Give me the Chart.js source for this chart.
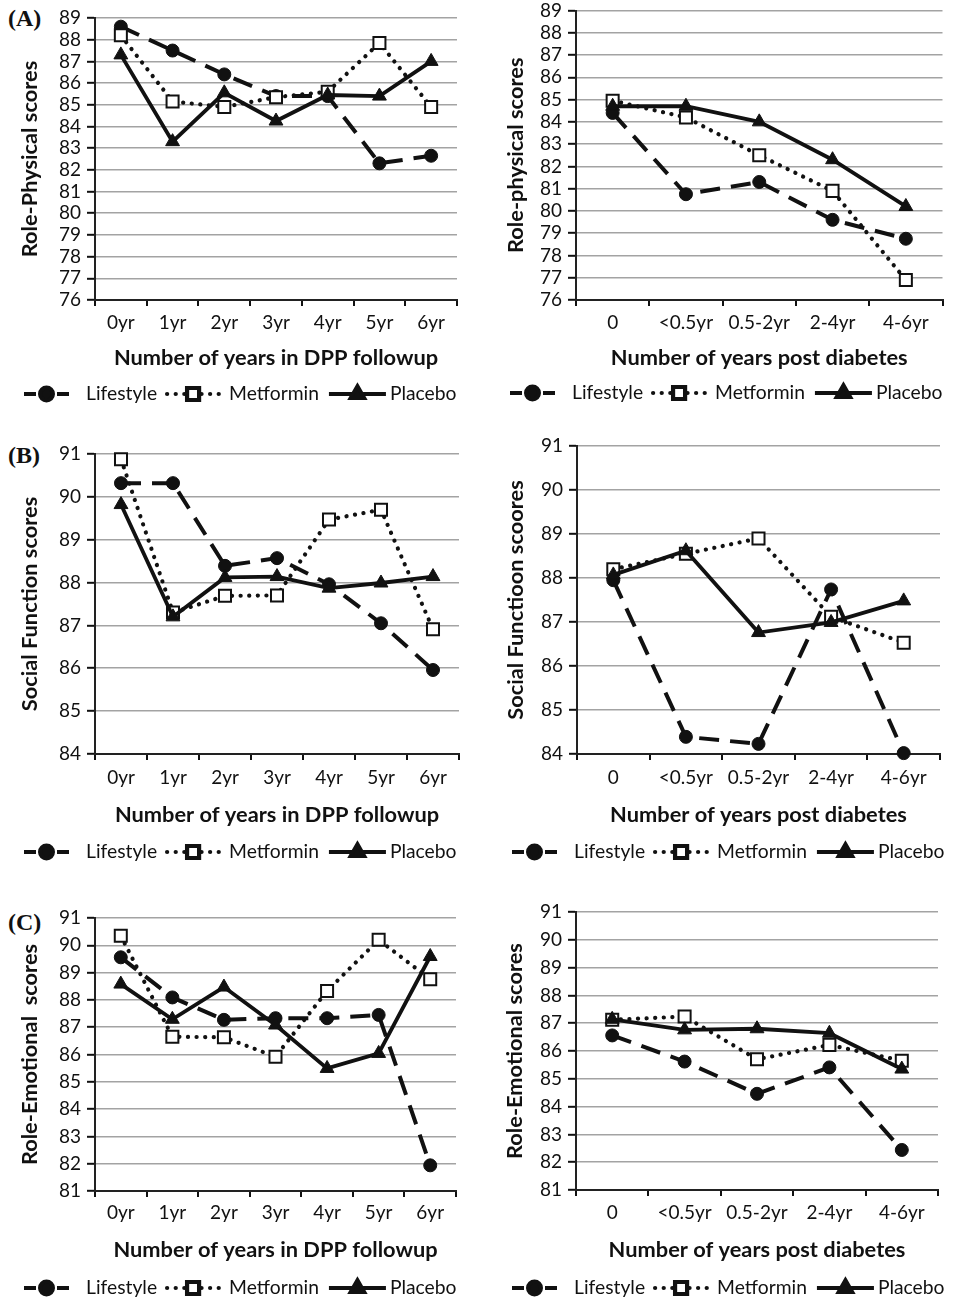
<!DOCTYPE html>
<html>
<head>
<meta charset="utf-8">
<script src="https://cdn.jsdelivr.net/npm/chart.js@4.4.1/dist/chart.umd.min.js"></script>
<style>
body { margin: 0; background: #fff; }
#page { position: relative; width: 953px; height: 1302px; overflow: hidden; background: #fff; }
canvas { position: absolute; }
.tag { position: absolute; left: 8px; font-family: "Liberation Serif", serif; font-weight: bold; font-size: 24px; line-height: 1; color: #111; }
</style>
</head>
<body>
<div id="page">
  <div class="tag" style="top:6px">(A)</div>
  <div class="tag" style="top:443px">(B)</div>
  <div class="tag" style="top:910px">(C)</div>
  <canvas id="rpDpp"></canvas>
  <canvas id="rpPost"></canvas>
  <canvas id="sfDpp"></canvas>
  <canvas id="sfPost"></canvas>
  <canvas id="reDpp"></canvas>
  <canvas id="rePost"></canvas>
</div>
<script>
// categories
const dppYears = ['0yr', '1yr', '2yr', '3yr', '4yr', '5yr', '6yr'];
const postYears = ['0', '<0.5yr', '0.5-2yr', '2-4yr', '4-6yr'];

// (A) role-physical
const rpDppLifestyle = [88.6, 87.5, 86.4, 85.4, 85.4, 82.3, 82.65];
const rpDppMetformin = [88.2, 85.15, 84.9, 85.35, 85.6, 87.85, 84.9];
const rpDppPlacebo = [87.3, 83.3, 85.55, 84.25, 85.45, 85.4, 87.0];
const rpPostLifestyle = [84.4, 80.75, 81.3, 79.6, 78.75];
const rpPostMetformin = [84.95, 84.2, 82.5, 80.9, 76.9];
const rpPostPlacebo = [84.7, 84.7, 84.0, 82.3, 80.2];

// (B) social function
const sfDppLifestyle = [90.32, 90.32, 88.39, 88.57, 87.96, 87.05, 85.96];
const sfDppMetformin = [90.88, 87.3, 87.69, 87.7, 89.47, 89.7, 86.91];
const sfDppPlacebo = [89.82, 87.2, 88.12, 88.14, 87.87, 87.99, 88.14];
const sfPostLifestyle = [87.95, 84.39, 84.23, 87.74, 84.02];
const sfPostMetformin = [88.2, 88.55, 88.9, 87.12, 86.53];
const sfPostPlacebo = [88.07, 88.62, 86.76, 86.99, 87.48];

// (C) role-emotional
const reDppLifestyle = [89.56, 88.09, 87.27, 87.33, 87.33, 87.45, 81.94];
const reDppMetformin = [90.35, 86.65, 86.63, 85.92, 88.33, 90.2, 88.76];
const reDppPlacebo = [88.58, 87.29, 88.47, 87.08, 85.49, 86.04, 89.59];
const rePostLifestyle = [86.56, 85.62, 84.46, 85.41, 82.44];
const rePostMetformin = [87.12, 87.24, 85.7, 86.22, 85.65];
const rePostPlacebo = [87.14, 86.76, 86.8, 86.64, 85.35];

// y ranges
const rpRange = [76, 89];
const sfRange = [84, 91];
const reRange = [81, 91];

const dppTitle = 'Number of years in DPP followup';
const postTitle = 'Number of years post diabetes';

const ink = '#111';
const gridGray = '#a3a3a3';
const tickFont = {family: 'Lato', size: 19};
const titleFont = {family: 'Lato', size: 21.8, weight: 'bold'};
const legendFont = '19.3px Lato';

const styles = {
    Lifestyle: {borderDash: [20, 11], borderWidth: 4, borderCapStyle: 'butt', pointStyle: 'circle', pointRadius: 6.5,
        pointBackgroundColor: ink, pointBorderWidth: 1, order: 3, sampleW: 45, textGap: 17},
    Metformin: {borderDash: [0.1, 8.5], borderWidth: 4.2, borderCapStyle: 'round', pointStyle: 'rect', pointRadius: 8.5,
        pointBackgroundColor: '#fff', pointBorderWidth: 2, order: 2, sampleW: 52, textGap: 10},
    Placebo: {borderDash: [], borderWidth: 3.8, borderCapStyle: 'butt', pointStyle: 'triangle', pointRadius: 8,
        pointBackgroundColor: ink, pointBorderWidth: 1, order: 1, sampleW: 57, textGap: 4}
};

function makeSeries(label, data) {
    return Object.assign({
        label: label,
        data: data,
        borderColor: ink,
        pointBorderColor: ink,
        pointHoverRadius: 8,
        tension: 0,
        clip: false
    }, styles[label]);
}

// excel-like legend: line sample with the marker in the middle, then the text
const sampleLegend = {
    id: 'sampleLegend',
    afterDraw(chart, args, opts) {
        const ctx = chart.ctx;
        let x = opts.x;
        const y = opts.y;
        ctx.save();
        ctx.font = legendFont;
        ctx.textBaseline = 'middle';
        chart.data.datasets.forEach(ds => {
            const sw = ds.sampleW;
            let dash = ds.borderDash;
            if (dash.length && dash[0] > 1) {
                // a dash at each end, gap around the marker
                dash = [12, sw - 24];
            }
            ctx.save();
            ctx.strokeStyle = ds.borderColor;
            ctx.lineWidth = ds.borderWidth;
            ctx.lineCap = ds.borderCapStyle;
            ctx.setLineDash(dash);
            ctx.beginPath();
            ctx.moveTo(x, y);
            ctx.lineTo(x + sw, y);
            ctx.stroke();
            ctx.setLineDash([]);
            ctx.fillStyle = ds.pointBackgroundColor;
            ctx.strokeStyle = ds.pointBorderColor;
            Chart.helpers.drawPoint(ctx, {pointStyle: ds.pointStyle, radius: ds.pointRadius,
                borderWidth: ds.pointBorderWidth, rotation: 0}, x + sw / 2, y);
            ctx.restore();
            x += sw + ds.textGap;
            ctx.fillStyle = ink;
            ctx.fillText(ds.label, x, y);
            x += ctx.measureText(ds.label).width + 10;
        });
        ctx.restore();
    }
};

function buildChart(id, box, labels, lifestyle, metformin, placebo, range, yTitle, xTitle) {
    const canvas = document.getElementById(id);
    canvas.width = box.w;
    canvas.height = box.h;
    canvas.style.left = box.x + 'px';
    canvas.style.top = box.y + 'px';
    canvas.style.width = box.w + 'px';
    canvas.style.height = box.h + 'px';

    const L = box.left - box.x, T = box.top - box.y, R = box.right - box.x, B = box.bottom - box.y;
    const xH = box.titleGap + 15;
    const titleLH = titleFont.size * 1.2;
    const tickLH = tickFont.size * 1.2;

    return new Chart(canvas, {
        type: 'line',
        data: {
            labels: labels,
            datasets: [
                makeSeries('Lifestyle', lifestyle),
                makeSeries('Metformin', metformin),
                makeSeries('Placebo', placebo)
            ]
        },
        options: {
            responsive: false,
            animation: false,
            devicePixelRatio: 1,
            layout: {padding: {left: 0, top: T, right: box.w - R, bottom: box.h - B - xH}},
            plugins: {
                legend: {display: false},
                tooltip: {enabled: false},
                sampleLegend: {x: box.legendX - box.x, y: box.legendY - box.y}
            },
            scales: {
                x: {
                    offset: true,
                    grid: {display: true, drawOnChartArea: false, offset: true, tickLength: 6,
                        tickColor: ink, lineWidth: 2, tickWidth: 2},
                    border: {display: true, color: '#222', width: 2},
                    ticks: {color: ink, font: tickFont, padding: box.tickGap - 6 - tickLH / 2,
                        maxRotation: 0, autoSkip: false},
                    title: {display: true, text: xTitle, color: ink, font: titleFont,
                        padding: {top: 0, bottom: xH - box.titleGap - titleLH / 2}},
                    afterFit(s) { s.height = xH; s.paddingLeft = 0; s.paddingRight = 0; }
                },
                y: {
                    min: range[0],
                    max: range[1],
                    grid: {color: gridGray, lineWidth: 1.6, tickLength: 8, tickColor: ink, tickWidth: 2},
                    border: {display: true, color: '#222', width: 2},
                    ticks: {stepSize: 1, autoSkip: false, color: ink, font: tickFont, padding: 6},
                    title: {display: true, text: yTitle, color: ink, font: titleFont,
                        padding: {top: box.yTitleX - titleLH / 2, bottom: 0}},
                    afterFit(s) { s.width = L; s.paddingTop = 0; s.paddingBottom = 0; }
                }
            }
        },
        plugins: [sampleLegend]
    });
}

window.onload = function () {
    buildChart('rpDpp', {x: 0, y: 0, w: 476, h: 420, left: 95, top: 18, right: 457, bottom: 300,
        tickGap: 23, titleGap: 58, legendX: 24, legendY: 394, yTitleX: 30},
        dppYears, rpDppLifestyle, rpDppMetformin, rpDppPlacebo, rpRange, 'Role-Physical scores', dppTitle);
    buildChart('rpPost', {x: 476, y: 0, w: 477, h: 420, left: 576, top: 8, right: 947, bottom: 300,
        tickGap: 23, titleGap: 58, legendX: 510, legendY: 393, yTitleX: 40},
        postYears, rpPostLifestyle, rpPostMetformin, rpPostPlacebo, rpRange, 'Role-physical scores', postTitle);

    buildChart('sfDpp', {x: 0, y: 420, w: 476, h: 460, left: 95, top: 454, right: 459, bottom: 754,
        tickGap: 24, titleGap: 61, legendX: 24, legendY: 852, yTitleX: 30},
        dppYears, sfDppLifestyle, sfDppMetformin, sfDppPlacebo, sfRange, 'Social Function scores', dppTitle);
    buildChart('sfPost', {x: 476, y: 420, w: 477, h: 460, left: 577, top: 446, right: 940, bottom: 754,
        tickGap: 24, titleGap: 61, legendX: 512, legendY: 852, yTitleX: 40},
        postYears, sfPostLifestyle, sfPostMetformin, sfPostPlacebo, sfRange, 'Social Functioon scoores', postTitle);

    buildChart('reDpp', {x: 0, y: 880, w: 476, h: 422, left: 95, top: 918, right: 456, bottom: 1191,
        tickGap: 22, titleGap: 59, legendX: 24, legendY: 1288, yTitleX: 30},
        dppYears, reDppLifestyle, reDppMetformin, reDppPlacebo, reRange, 'Role-Emotional  scores', dppTitle);
    buildChart('rePost', {x: 476, y: 880, w: 477, h: 422, left: 576, top: 912, right: 938, bottom: 1190,
        tickGap: 23, titleGap: 60, legendX: 512, legendY: 1288, yTitleX: 39},
        postYears, rePostLifestyle, rePostMetformin, rePostPlacebo, reRange, 'Role-Emotional scores', postTitle);
};
</script>
</body>
</html>
